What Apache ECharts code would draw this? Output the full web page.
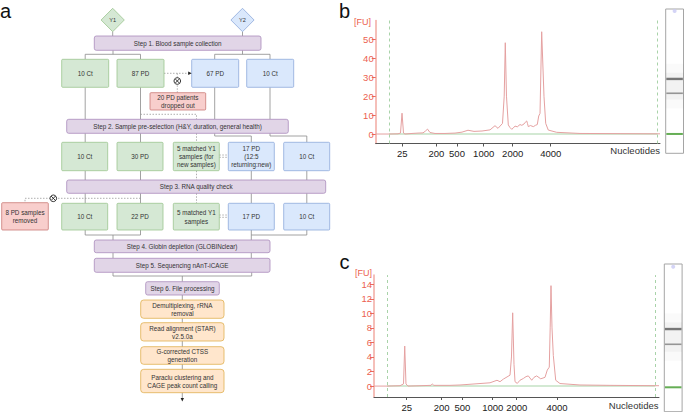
<!DOCTYPE html>
<html><head><meta charset="utf-8">
<script src="https://cdn.jsdelivr.net/npm/echarts@6/dist/echarts.min.js"></script>
<style>html,body{margin:0;padding:0;background:#fff}#chart{width:685px;height:412px}</style>
</head><body><div id="chart"></div><script>
const FONT = '"Liberation Sans", Arial, Helvetica, sans-serif';

// ---------- panel b electropherogram (migration time in s, fluorescence in FU) ----------
const bTime = [19.0, 21.34, 22.92, 23.36, 23.63, 23.89, 24.15, 25.38, 26.44, 27.32, 27.76, 28.11, 28.55, 29.43, 31.19, 32.95, 34.18, 35.23, 36.29, 37.70, 39.11, 39.98, 40.51, 41.30, 41.60, 41.79, 42.00, 42.32, 42.60, 42.92, 43.20, 43.50, 43.90, 44.38, 44.70, 45.08, 45.30, 45.56, 45.70, 45.84, 46.20, 46.72, 47.10, 47.42, 47.67, 47.90, 48.19, 48.60, 48.90, 49.35, 50.83, 54.93, 61.97, 69.0];
const bFU   = [0, 0, 0.1, 0.5, 11.0, 0.5, 0, 0.3, 0.5, 0.6, 1.6, 2.6, 0.8, 0.3, 0.3, 0.5, 1.0, 2.0, 1.4, 1.6, 2.2, 4.4, 3.0, 5.6, 20, 48.2, 20, 4.8, 3.5, 2.5, 3.2, 4.2, 3.8, 5.0, 4.6, 5.3, 6.2, 6.9, 5.5, 3.9, 4.5, 3.9, 4.6, 5.0, 9.5, 10.9, 54, 19.7, 5.6, 2.1, 0.9, 0.3, 0.2, 0.1];
const bLadderPos = [23.68, 29.66, 33.30, 37.99, 43.09, 49.78];
const bMarkerLines = [21.34, 68.52];
const bYTicks = [0, 10, 20, 30, 40, 50];
const bGelBands = [23.63, 41.79, 48.19];
const bGelDot = 78.5;

// ---------- panel c electropherogram ----------
const cTime = [19.0, 21.28, 23.56, 24.18, 24.39, 24.61, 24.96, 27.07, 29.00, 29.23, 29.50, 32.33, 34.09, 36.72, 39.35, 40.58, 41.11, 41.68, 42.86, 43.12, 43.33, 43.56, 43.74, 44.14, 44.61, 45.19, 45.67, 46.07, 46.67, 47.07, 47.54, 48.25, 49.0, 49.40, 49.75, 49.91, 50.05, 50.23, 50.46, 50.88, 51.63, 55.14, 60.40, 69.0];
const cFU   = [0, 0, 0.05, 0.3, 5.5, 0.3, 0, 0.05, 0.1, 0.3, 0.1, 0.1, 0.15, 0.3, 0.45, 0.8, 0.6, 0.95, 1.5, 4, 10.07, 3, 0.6, 0.37, 0.8, 1.04, 1.3, 1.4, 0.8, 1.2, 1.4, 1.0, 1.2, 2.2, 2.6, 8, 13.8, 8, 4.2, 0.8, 0.35, 0.15, 0.1, 0.05];
const cLadderPos = [24.74, 30.88, 34.51, 39.83, 44.04, 51.11];
const cMarkerLines = [21.28, 68.35];
const cYTicks = [0, 2, 4, 6, 8, 10, 12, 14];
const cGelBands = [24.39, 43.33, 50.05];
const cGelDot = 77.5;

const ladderLabels = ['25', '200', '500', '1000', '2000', '4000'];

// ---------- panel a flowchart texts ----------
const yearLabels = ['Y1', 'Y2'];
const stepLabels = ['Step 1. Blood sample collection', 'Step 2. Sample pre-selection (H&Y, duration, general health)', 'Step 3. RNA quality check', 'Step 4. Globin depletion (GLOBINclear)', 'Step 5. Sequencing nAnT-iCAGE', 'Step 6. File processing'];
const row1Labels = ['10 Ct', '87 PD', '67 PD', '10 Ct'];
const row2Labels = ['10 Ct', '30 PD', '5 matched Y1\nsamples (for\nnew samples)', '17 PD\n(12:5\nreturning:new)', '10 Ct'];
const row3Labels = ['10 Ct', '22 PD', '5 matched Y1\nsamples', '17 PD', '10 Ct'];
const dropLabels = ['20 PD patients\ndropped out', '8 PD samples\nremoved'];
const processingLabels = ['Demultiplexing, rRNA\nremoval', 'Read alignment (STAR)\nv2.5.0a', 'G-corrected CTSS\ngeneration', 'Paraclu clustering and\nCAGE peak count calling'];

// ---------- build flowchart graphics ----------
const COL = {g: ['#d5e8d4', '#9cc58f'], b: ['#dae8fc', '#8eaadb'], p: ['#e1d5e7', '#a98bbb'], r: ['#f8cecc', '#c97a76'], o: ['#ffe6cc', '#e0b050']};
const G = [];
function label(x, y, text, size, color, align) {
  G.push({type: 'text', x: x, y: y, z: 12, style: {text: text, fontSize: size || 6.3, fontFamily: FONT, fill: color || '#333',
    align: align || 'center', verticalAlign: 'middle', textAlign: align || 'center', textVerticalAlign: 'middle', lineHeight: 8.2}});
}
function box(x, y, w, h, kind, text) {
  const c = COL[kind];
  G.push({type: 'rect', z: 10, shape: {x: x, y: y, width: w, height: h, r: kind === 'o' ? 3 : (kind === 'p' ? 2 : 1)}, style: {fill: c[0], stroke: c[1], lineWidth: 0.8}});
  label(x + w / 2, y + h / 2 + 0.3, text);
}
function ln(pts, dash) {
  G.push({type: 'polyline', z: 8, shape: {points: pts}, style: {stroke: dash ? '#9a9a9a' : '#8a8a8a', fill: null, lineWidth: 0.8, lineDash: dash ? [1.5, 1.5] : null}});
}
function cross(cx, cy) {
  G.push({type: 'circle', z: 11, shape: {cx: cx, cy: cy, r: 3.3}, style: {fill: '#fff', stroke: '#222', lineWidth: 0.9}});
  const d = 2.3;
  G.push({type: 'line', z: 12, shape: {x1: cx - d, y1: cy - d, x2: cx + d, y2: cy + d}, style: {stroke: '#222', lineWidth: 0.9}});
  G.push({type: 'line', z: 12, shape: {x1: cx - d, y1: cy + d, x2: cx + d, y2: cy - d}, style: {stroke: '#222', lineWidth: 0.9}});
}
function diamond(cx, cy, kind, text) {
  const c = COL[kind];
  G.push({type: 'polygon', z: 10, shape: {points: [[cx, cy - 11.7], [cx + 11.6, cy], [cx, cy + 11.7], [cx - 11.6, cy]]}, style: {fill: c[0], stroke: c[1], lineWidth: 0.8}});
  label(cx, cy, text, 5.6);
}
function arrowHead(points) {
  G.push({type: 'polygon', z: 12, shape: {points: points}, style: {fill: '#222'}});
}

const colX4 = [61.7, 117, 191.7, 246.7];
const colX5 = [61.7, 117, 173.3, 228.3, 283.7];
const kinds5 = ['g', 'g', 'g', 'b', 'b'];

// years and step 1
diamond(112.7, 20, 'g', yearLabels[0]);
diamond(242.5, 20, 'b', yearLabels[1]);
ln([[112.7, 31.7], [112.7, 36]]);
ln([[242.5, 31.7], [242.5, 36]]);
box(94.3, 36, 166.7, 14.3, 'p', stepLabels[0]);
ln([[113, 50.3], [113, 54.3]]);
ln([[85.2, 59.3], [85.2, 54.3], [140.5, 54.3], [140.5, 59.3]]);
ln([[242.5, 50.3], [242.5, 54.3]]);
ln([[214.7, 59.3], [214.7, 54.3], [270, 54.3], [270, 59.3]]);
// row 1
row1Labels.forEach((t, i) => box(colX4[i], 59.3, 47, 28, i < 2 ? 'g' : 'b', t));
ln([[164, 73.3], [189, 73.3]], true);
arrowHead([[191.7, 73.3], [188.2, 71.6], [188.2, 75]]);
ln([[177.3, 73.3], [177.3, 92.7]], true);
cross(177.3, 81);
box(150, 92.7, 55.7, 17.3, 'r', dropLabels[0]);
// row1 -> step2
[85.2, 140.5, 214.7, 270].forEach(x => ln([[x, 87.3], [x, 119.3]]));
ln([[140.5, 114.3], [196.5, 114.3], [196.5, 119.3]], true);
box(66.7, 119.3, 221.6, 14, 'p', stepLabels[1]);
// step2 -> row2
ln([[85.2, 133.3], [85.2, 142.3]]);
ln([[140.5, 133.3], [140.5, 142.3]]);
ln([[196.5, 133.3], [196.5, 142.3]], true);
ln([[214.7, 133.3], [214.7, 136], [251.3, 136], [251.3, 142.3]]);
ln([[270, 133.3], [270, 136], [306.8, 136], [306.8, 142.3]]);
// row 2
row2Labels.forEach((t, i) => box(colX5[i], 142.3, 46, 28.4, kinds5[i], t));
ln([[219.3, 155], [228.3, 155]], true);
ln([[219.3, 157.3], [228.3, 157.3]], true);
[85.2, 140.5, 251.3, 306.8].forEach(x => ln([[x, 170.7], [x, 180]]));
ln([[196.5, 170.7], [196.5, 180]], true);
box(66.7, 180, 259, 13.3, 'p', stepLabels[2]);
// step3 -> row3
[85.2, 140.5, 251.3, 306.8].forEach(x => ln([[x, 193.3], [x, 203.3]]));
ln([[196.5, 193.3], [196.5, 203.3]], true);
ln([[140.5, 198.3], [25, 198.3], [25, 202.7]], true);
cross(53.3, 198.3);
box(1.7, 202.7, 46.6, 27.3, 'r', dropLabels[1]);
// row 3
row3Labels.forEach((t, i) => box(colX5[i], 203.3, 46, 26.7, kinds5[i], t));
ln([[219.3, 215], [228.3, 215]], true);
ln([[219.3, 217.3], [228.3, 217.3]], true);
ln([[85.2, 230], [85.2, 235], [140.5, 235], [140.5, 230]]);
ln([[113, 235], [113, 240]]);
ln([[251.3, 230], [251.3, 240]]);
ln([[306.8, 230], [306.8, 235], [251.3, 235]]);
box(94.3, 240, 175.7, 12.7, 'p', stepLabels[3]);
ln([[113, 252.7], [113, 258.3]]);
ln([[251.3, 252.7], [251.3, 258.3]]);
box(94.3, 258.3, 175.7, 14, 'p', stepLabels[4]);
ln([[113, 272.3], [113, 276], [251.7, 276], [251.7, 272.3]]);
ln([[182.3, 276], [182.3, 281.7]]);
box(145.7, 281.7, 73.6, 13.3, 'p', stepLabels[5]);
// processing boxes
const procY = [[300, 18.3], [322.7, 18.3], [346.7, 17.6], [369.3, 23.4]];
ln([[182.3, 295], [182.3, 398.5]]);
processingLabels.forEach((t, i) => box(140.7, procY[i][0], 83.3, procY[i][1], 'o', t));
arrowHead([[182.3, 401.5], [180.6, 398], [184, 398]]);

// panel letters and axis captions
const RED = '#ec5f4f';
label(0, 10.5, 'a', 20, '#111', 'left');
label(339, 10.5, 'b', 20, '#111', 'left');
label(339.5, 262, 'c', 20, '#111', 'left');
label(371, 21.7, '[FU]', 9, RED, 'right');
label(372, 273, '[FU]', 9, RED, 'right');
label(660, 150.5, 'Nucleotides', 9.5, '#333', 'right');
label(658.5, 405.5, 'Nucleotides', 9.5, '#333', 'right');

// ---------- chart option ----------
function zip(a, b) { return a.map((v, i) => [v, b[i]]); }
function ladderFmt(pos) {
  return v => { const i = pos.findIndex(p => Math.abs(p - v) < 1e-6); return i >= 0 ? ladderLabels[i] : ''; };
}
function xAx(grid, pos) {
  return {type: 'value', gridIndex: grid, min: 19, max: 69,
    axisLine: {onZero: false, lineStyle: {color: '#555', width: 1}},
    axisTick: {show: true, customValues: pos, length: 3, lineStyle: {color: '#555'}},
    axisLabel: {customValues: pos, formatter: ladderFmt(pos), margin: 5, fontSize: 9.5, color: '#222', fontFamily: FONT},
    splitLine: {show: false}};
}
function yAx(grid, min, max, ticks) {
  return {type: 'value', gridIndex: grid, min: min, max: max,
    axisLine: {show: true, onZero: false, lineStyle: {color: '#f2aaa2', width: 1.5}},
    axisTick: {show: true, customValues: ticks, length: 4, lineStyle: {color: '#ea6a5c'}},
    axisLabel: {customValues: ticks, margin: 2, fontSize: 9.5, color: RED, fontFamily: FONT},
    splitLine: {show: false}};
}
function refSeries(ax, lines) {
  return {type: 'line', xAxisIndex: ax, yAxisIndex: ax, data: [[lines[0], 0], [lines[1], 0]], showSymbol: false, silent: true,
    lineStyle: {color: '#c4e2c4', width: 1.5},
    markLine: {symbol: 'none', silent: true, label: {show: false}, lineStyle: {color: '#a9d3a9', type: [3, 3], width: 1},
      data: lines.map(x => ({xAxis: x}))}};
}
function traceSeries(ax, t, v) {
  return {type: 'line', xAxisIndex: ax, yAxisIndex: ax, data: zip(t, v), showSymbol: false, silent: true,
    lineStyle: {color: '#e5a1a1', width: 1}};
}
function gelSeries(ax, bands, dot, smear) {
  const cols = [['#3f9a2b', 2], ['#7d7d7d', 1.6], ['#585858', 2.4]];
  const data = bands.map((t, i) => ({value: [0.5, t], symbol: 'rect', symbolSize: [16.5, cols[i][1]], itemStyle: {color: cols[i][0]}}));
  data.push({value: [0.5, dot], symbol: 'circle', symbolSize: 4, itemStyle: {color: '#c9c9f4'}});
  return {type: 'scatter', xAxisIndex: ax, yAxisIndex: ax, data: data, silent: true,
    markArea: {silent: true, data: [
      [{yAxis: smear[0], itemStyle: {color: 'rgba(0,0,0,0.018)'}}, {yAxis: smear[3]}],
      [{yAxis: smear[1], itemStyle: {color: 'rgba(0,0,0,0.03)'}}, {yAxis: smear[2]}]
    ]}};
}

const option = {
  animation: false,
  backgroundColor: '#fff',
  textStyle: {fontFamily: FONT},
  grid: [
    {left: 375.7, top: 20.4, width: 284.3, height: 123.1},
    {left: 374, top: 275.1, width: 285, height: 123.7},
    {left: 665.7, top: 9, width: 17.8, height: 144.3, show: true, borderColor: '#a5a5a5', borderWidth: 1, backgroundColor: '#fff'},
    {left: 664.3, top: 264, width: 17.8, height: 147.7, show: true, borderColor: '#a5a5a5', borderWidth: 1, backgroundColor: '#fff'}
  ],
  xAxis: [
    xAx(0, bLadderPos),
    xAx(1, cLadderPos),
    {type: 'value', gridIndex: 2, min: 0, max: 1, show: false},
    {type: 'value', gridIndex: 3, min: 0, max: 1, show: false}
  ],
  yAxis: [
    yAx(0, -5, 60, bYTicks),
    yAx(1, -1.5, 15.25, cYTicks),
    {type: 'value', gridIndex: 2, min: 15, max: 79.4, show: false},
    {type: 'value', gridIndex: 3, min: 13.64, max: 78.7, show: false}
  ],
  graphic: {elements: G},
  series: [
    refSeries(0, bMarkerLines),
    traceSeries(0, bTime, bFU),
    refSeries(1, cMarkerLines),
    traceSeries(1, cTime, cFU),
    gelSeries(2, bGelBands, bGelDot, [35, 39, 51, 55]),
    gelSeries(3, cGelBands, cGelDot, [36, 40, 53, 57])
  ]
};
const chart = echarts.init(document.getElementById('chart'), null, {renderer: 'svg'});
chart.setOption(option);
</script></body></html>
